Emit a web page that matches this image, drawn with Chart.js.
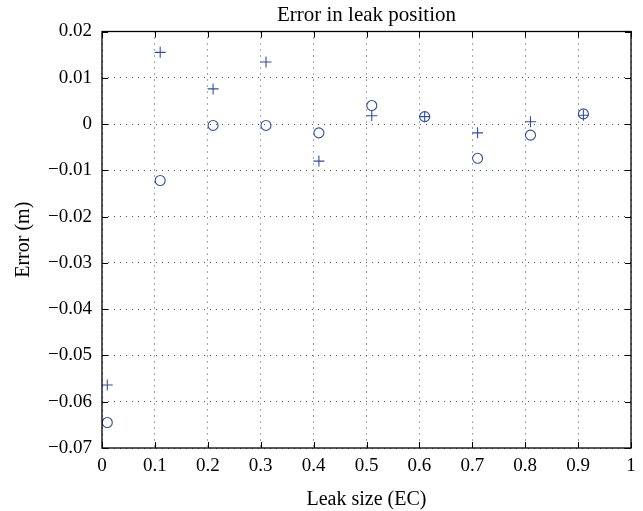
<!DOCTYPE html>
<html>
<head>
<meta charset="utf-8">
<script src="https://cdn.jsdelivr.net/npm/chart.js@4/dist/chart.umd.min.js"></script>
<style>
html,body{margin:0;padding:0;background:#fff;}
#wrap{position:relative;width:643px;height:511px;}
</style>
</head>
<body>
<div id="wrap"><canvas id="c" width="643" height="511"></canvas></div>
<script>
const leakSizes = [0.01, 0.11, 0.21, 0.31, 0.41, 0.51, 0.61, 0.71, 0.81, 0.91];
const errorPlus = [-0.0564, 0.0155, 0.0076, 0.0134, -0.0080, 0.0018, 0.0016, -0.0019, 0.0005, 0.0019];
const errorCircle = [-0.0645, -0.0122, -0.0003, -0.0003, -0.0019, 0.0040, 0.0016, -0.0074, -0.0024, 0.0022];
const xTickLabels = ["0","0.1","0.2","0.3","0.4","0.5","0.6","0.7","0.8","0.9","1"];
const yTickLabels = ["\u22120.07","\u22120.06","\u22120.05","\u22120.04","\u22120.03","\u22120.02","\u22120.01","0","0.01","0.02"];

const FONT = "'Liberation Serif', 'DejaVu Serif', serif";
const BLUE = '#2c4fa6';

const framePlugin = {
  id: 'frame',
  afterDatasetsDraw(chart) {
    const {ctx, chartArea: a, scales: {x, y}} = chart;
    ctx.save();
    ctx.strokeStyle = '#000';
    ctx.lineWidth = 1;
    const L = 6;
    ctx.beginPath();
    x.ticks.forEach(t => {
      const px = Math.round(x.getPixelForValue(t.value)) + 0.5;
      ctx.moveTo(px, a.bottom); ctx.lineTo(px, a.bottom - L);
      ctx.moveTo(px, a.top); ctx.lineTo(px, a.top + L);
    });
    y.ticks.forEach(t => {
      const py = Math.round(y.getPixelForValue(t.value)) + 0.5;
      ctx.moveTo(a.left, py); ctx.lineTo(a.left + L, py);
      ctx.moveTo(a.right, py); ctx.lineTo(a.right - L, py);
    });
    ctx.stroke();
    ctx.lineWidth = 1.3;
    ctx.strokeRect(a.left, a.top, a.right - a.left, a.bottom - a.top);
    ctx.restore();
  }
};

new Chart(document.getElementById('c'), {
  type: 'scatter',
  data: {
    datasets: [
      {
        label: 'plus',
        data: leakSizes.map((v, i) => ({x: v, y: errorPlus[i]})),
        pointStyle: 'cross',
        pointRadius: 5.5,
        borderColor: BLUE,
        backgroundColor: BLUE,
        pointBorderWidth: 1.1
      },
      {
        label: 'circle',
        data: leakSizes.map((v, i) => ({x: v, y: errorCircle[i]})),
        pointStyle: 'circle',
        pointRadius: 5,
        borderColor: BLUE,
        backgroundColor: 'rgba(0,0,0,0)',
        pointBorderWidth: 1.1
      }
    ]
  },
  options: {
    responsive: false,
    animation: false,
    events: [],
    layout: {padding: {left: 0, right: 12, top: 0, bottom: 0}},
    plugins: {
      legend: {display: false},
      tooltip: {enabled: false},
      title: {
        display: true,
        fullSize: false,
        text: 'Error in leak position',
        color: '#000',
        font: {family: FONT, size: 21, weight: 'normal', lineHeight: 1.2},
        padding: {top: 3, bottom: 3.3}
      }
    },
    scales: {
      x: {
        type: 'linear',
        min: 0, max: 1,
        afterFit(s) { s.height = 63; },
        ticks: {
          stepSize: 0.1,
          color: '#000',
          padding: 7,
          maxRotation: 0,
          font: {family: FONT, size: 19},
          callback: (v, i) => xTickLabels[i]
        },
        grid: {
          drawTicks: false,
          color: '#555',
          lineWidth: 1
        },
        border: {display: false, dash: [1, 5]},
        title: {
          display: true,
          text: 'Leak size (EC)',
          color: '#000',
          font: {family: FONT, size: 20, lineHeight: 1},
          padding: {top: 0, bottom: 1}
        }
      },
      y: {
        type: 'linear',
        min: -0.07, max: 0.02,
        afterFit(s) { s.width = 102; },
        ticks: {
          stepSize: 0.01,
          color: '#000',
          padding: 10,
          font: {family: FONT, size: 19},
          callback: (v, i) => yTickLabels[i]
        },
        grid: {
          drawTicks: false,
          color: '#555',
          lineWidth: 1
        },
        border: {display: false, dash: [1, 5]},
        title: {
          display: true,
          text: 'Error (m)',
          color: '#000',
          font: {family: FONT, size: 20, lineHeight: 1},
          padding: {top: 14, bottom: 0}
        }
      }
    }
  },
  plugins: [framePlugin]
});
</script>
</body>
</html>
